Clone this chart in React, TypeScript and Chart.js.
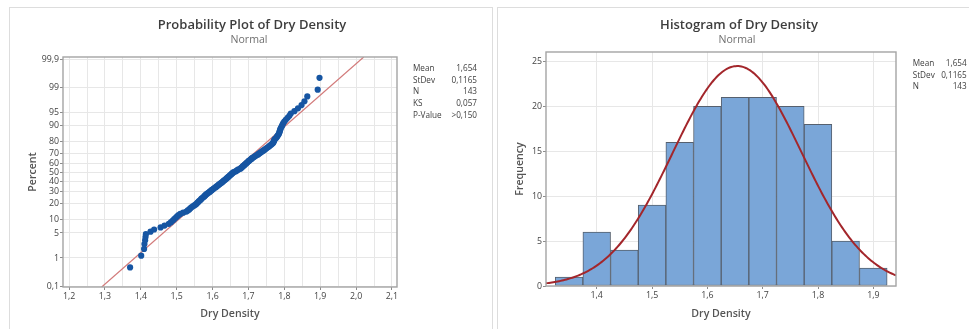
import React, { useEffect, useRef } from 'react';
import { Chart, registerables } from 'chart.js';

Chart.register(...registerables);

// ---------- data ----------
// Dry Density observations (sorted), estimated from the probability plot, consistent with the histogram bins
const dryDensity: number[] = [
  1.370,
  1.401, 1.409, 1.410, 1.412, 1.413, 1.414,
  1.427, 1.437, 1.455, 1.466,
  1.478, 1.484, 1.489, 1.493, 1.497, 1.501, 1.505, 1.510, 1.518,
  1.527, 1.531, 1.535, 1.538, 1.541, 1.545, 1.549, 1.553, 1.556, 1.558, 1.561, 1.563, 1.566, 1.568, 1.570, 1.573,
  1.576, 1.578, 1.580, 1.582, 1.585, 1.588, 1.591, 1.593, 1.596, 1.598, 1.601, 1.603, 1.606, 1.609, 1.611, 1.614, 1.616, 1.618, 1.621, 1.623,
  1.626, 1.628, 1.630, 1.632, 1.635, 1.637, 1.639, 1.641, 1.643, 1.645, 1.647, 1.649, 1.651, 1.653, 1.655, 1.657, 1.659, 1.664, 1.667, 1.669, 1.672,
  1.677, 1.679, 1.681, 1.683, 1.685, 1.687, 1.689, 1.691, 1.693, 1.695, 1.697, 1.699, 1.701, 1.703, 1.706, 1.708, 1.710, 1.713, 1.716, 1.719, 1.722,
  1.726, 1.728, 1.731, 1.734, 1.737, 1.740, 1.743, 1.746, 1.749, 1.752, 1.755, 1.758, 1.761, 1.764, 1.767, 1.769, 1.770, 1.771, 1.772, 1.774,
  1.777, 1.779, 1.781, 1.783, 1.785, 1.786, 1.787, 1.788, 1.789, 1.791, 1.793, 1.795, 1.797, 1.800, 1.804, 1.809, 1.814, 1.818,
  1.828, 1.838, 1.848, 1.856, 1.864,
  1.893, 1.898,
];

// Fitted normal parameters shown in the legend boxes
const fitMean = 1.654;
const fitStDev = 0.1165;
const sampleN = 143;

// Probability plot axes
const percentTicks: number[] = [0.1, 1, 5, 10, 20, 30, 40, 50, 60, 70, 80, 90, 95, 99, 99.9];
const percentTickLabels: string[] = ['0,1', '1', '5', '10', '20', '30', '40', '50', '60', '70', '80', '90', '95', '99', '99,9'];
const probXTicks: number[] = [1.2, 1.3, 1.4, 1.5, 1.6, 1.7, 1.8, 1.9, 2.0, 2.1];
const probXTickLabels: string[] = ['1,2', '1,3', '1,4', '1,5', '1,6', '1,7', '1,8', '1,9', '2,0', '2,1'];
const probXRange: number[] = [1.183, 2.114];
const probZRange: number[] = [-3.117, 3.153];

// Histogram
const binCenters: number[] = [1.35, 1.40, 1.45, 1.50, 1.55, 1.60, 1.65, 1.70, 1.75, 1.80, 1.85, 1.90];
const binCounts: number[] = [1, 6, 4, 9, 16, 20, 21, 21, 20, 18, 5, 2];
const binWidth = 0.05;
const histXTicks: number[] = [1.4, 1.5, 1.6, 1.7, 1.8, 1.9];
const histXTickLabels: string[] = ['1,4', '1,5', '1,6', '1,7', '1,8', '1,9'];
const histYTicks: number[] = [0, 5, 10, 15, 20, 25];
const histXRange: number[] = [1.3083, 1.941];
const histYRange: number[] = [0, 26.05];

// Legend tables
const probStatLabels: string[] = ['Mean', 'StDev', 'N', 'KS', 'P-Value'];
const probStatValues: string[] = ['1,654', '0,1165', '143', '0,057', '>0,150'];
const histStatLabels: string[] = ['Mean', 'StDev', 'N'];
const histStatValues: string[] = ['1,654', '0,1165', '143'];

// ---------- helpers ----------
function normInv(p: number): number {
  const a = [-3.969683028665376e1, 2.209460984245205e2, -2.759285104469687e2, 1.38357751867269e2, -3.066479806614716e1, 2.506628277459239];
  const b = [-5.447609879822406e1, 1.615858368580409e2, -1.556989798598866e2, 6.680131188771972e1, -1.328068155288572e1];
  const c = [-7.784894002430293e-3, -3.223964580411365e-1, -2.400758277161838, -2.549732539343734, 4.374664141464968, 2.938163982698783];
  const d = [7.784695709041462e-3, 3.224671290700398e-1, 2.445134137142996, 3.754408661907416];
  const pl = 0.02425;
  if (p < pl) {
    const q = Math.sqrt(-2 * Math.log(p));
    return (((((c[0] * q + c[1]) * q + c[2]) * q + c[3]) * q + c[4]) * q + c[5]) / ((((d[0] * q + d[1]) * q + d[2]) * q + d[3]) * q + 1);
  }
  if (p <= 1 - pl) {
    const q = p - 0.5;
    const r = q * q;
    return ((((((a[0] * r + a[1]) * r + a[2]) * r + a[3]) * r + a[4]) * r + a[5]) * q) / (((((b[0] * r + b[1]) * r + b[2]) * r + b[3]) * r + b[4]) * r + 1);
  }
  const q = Math.sqrt(-2 * Math.log(1 - p));
  return -(((((c[0] * q + c[1]) * q + c[2]) * q + c[3]) * q + c[4]) * q + c[5]) / ((((d[0] * q + d[1]) * q + d[2]) * q + d[3]) * q + 1);
}

const FONT = "'Open Sans', 'Noto Sans', sans-serif";
const TICK_COLOR = '#444444';
const GRID_COLOR = '#e7e7e7';
const TICKMARK_COLOR = '#8c8c8c';

const findIdx = (arr: number[], v: number) => arr.findIndex((t) => Math.abs(t - v) < 1e-6);

const decorPlugin = {
  id: 'decor',
  afterDraw(chart: any, _args: any, opts: any) {
    const { ctx, chartArea: a } = chart;
    ctx.save();
    // frame
    ctx.strokeStyle = '#a4a4a4';
    ctx.lineWidth = 1.4;
    ctx.strokeRect(a.left, a.top, a.right - a.left, a.bottom - a.top);
    // titles
    ctx.textAlign = 'center';
    ctx.textBaseline = 'alphabetic';
    ctx.fillStyle = '#3d3d3d';
    ctx.font = `600 13px ${FONT}`;
    ctx.fillText(opts.title, opts.titleX, opts.titleY);
    ctx.fillStyle = '#6f6f6f';
    ctx.font = `400 10.6px ${FONT}`;
    ctx.fillText(opts.subtitle, opts.subX, opts.subY);
    // stats table
    ctx.font = `400 8.2px ${FONT}`;
    ctx.fillStyle = '#404040';
    opts.labels.forEach((lab: string, i: number) => {
      const y = opts.rowY0 + i * opts.rowDy;
      ctx.textAlign = 'left';
      ctx.fillText(lab, opts.labelX, y);
      ctx.textAlign = 'right';
      ctx.fillText(opts.values[i], opts.valueX, y);
    });
    ctx.restore();
  },
};

function probConfig(): any {
  const sorted = [...dryDensity].sort((x, y) => x - y);
  const n = sorted.length;
  const points = sorted.map((v, i) => ({ x: v, y: normInv((i + 1 - 0.3) / (n + 0.4)) }));
  const fitLine = probZRange.map((z) => ({ x: fitMean + fitStDev * z, y: z }));
  const xGrid: number[] = [];
  probXTicks.forEach((t, i) => {
    xGrid.push(t);
    if (i < probXTicks.length - 1) xGrid.push(+(t + 0.05).toFixed(2));
  });
  return {
    type: 'scatter',
    data: {
      datasets: [
        {
          data: fitLine,
          showLine: true,
          borderColor: '#d27a7a',
          borderWidth: 1.2,
          pointRadius: 0,
          order: 1,
        },
        {
          data: points,
          backgroundColor: '#1655a2',
          borderColor: '#1655a2',
          borderWidth: 0,
          pointRadius: 3.1,
          order: 0,
        },
      ],
    },
    options: {
      animation: false,
      responsive: false,
      events: [],
      layout: { padding: { left: 0, right: 95, top: 57, bottom: 0 } },
      plugins: {
        legend: { display: false },
        tooltip: { enabled: false },
        decor: {
          title: 'Probability Plot of Dry Density',
          titleX: 252,
          titleY: 29.3,
          subtitle: 'Normal',
          subX: 249,
          subY: 43.3,
          labels: probStatLabels,
          values: probStatValues,
          labelX: 413,
          valueX: 477,
          rowY0: 71,
          rowDy: 11.7,
        },
      },
      scales: {
        x: {
          type: 'linear',
          min: probXRange[0],
          max: probXRange[1],
          afterBuildTicks: (s: any) => {
            s.ticks = xGrid.map((v) => ({ value: v }));
          },
          afterFit: (s: any) => {
            s.height = 42;
          },
          ticks: {
            autoSkip: false,
            maxRotation: 0,
            padding: 1,
            color: TICK_COLOR,
            font: { family: FONT, size: 8.8 },
            callback: (v: number) => {
              const i = findIdx(probXTicks, v);
              return i >= 0 ? probXTickLabels[i] : '';
            },
          },
          grid: {
            color: GRID_COLOR,
            lineWidth: 1,
            tickLength: 3,
            tickColor: (ctx: any) => (ctx.tick && findIdx(probXTicks, ctx.tick.value) >= 0 ? TICKMARK_COLOR : 'rgba(0,0,0,0)'),
          },
          border: { display: false },
          title: {
            display: true,
            text: 'Dry Density',
            color: '#555555',
            font: { family: FONT, size: 10.6, weight: '600' },
            padding: { top: 0, bottom: 9 },
          },
        },
        y: {
          type: 'linear',
          min: probZRange[0],
          max: probZRange[1],
          afterBuildTicks: (s: any) => {
            s.ticks = percentTicks.map((p) => ({ value: normInv(p / 100) }));
          },
          afterFit: (s: any) => {
            s.width = 63;
          },
          ticks: {
            autoSkip: false,
            padding: 1,
            color: TICK_COLOR,
            font: { family: FONT, size: 8.8 },
            callback: (_v: number, i: number) => percentTickLabels[i],
          },
          grid: { color: GRID_COLOR, lineWidth: 1, tickLength: 3, tickColor: TICKMARK_COLOR },
          border: { display: false },
          title: {
            display: true,
            text: 'Percent',
            color: '#555555',
            font: { family: FONT, size: 10.6, weight: '600' },
            padding: { top: 27, bottom: 0 },
          },
        },
      },
    },
    plugins: [decorPlugin],
  };
}

function histConfig(): any {
  // fitted normal density scaled to counts
  const steps = 240;
  const curve: { x: number; y: number }[] = [];
  for (let k = 0; k <= steps; k++) {
    const x = histXRange[0] + ((histXRange[1] - histXRange[0]) * k) / steps;
    const zz = (x - fitMean) / fitStDev;
    curve.push({ x, y: (sampleN * binWidth * Math.exp(-0.5 * zz * zz)) / (fitStDev * Math.sqrt(2 * Math.PI)) });
  }
  const bars = binCenters.map((c, i) => ({ x: c, y: binCounts[i] }));
  return {
    type: 'bar',
    data: {
      datasets: [
        {
          type: 'line',
          data: curve,
          borderColor: '#a3262b',
          borderWidth: 2,
          pointRadius: 0,
          order: 0,
        },
        {
          type: 'bar',
          data: bars,
          backgroundColor: '#7aa6d8',
          borderColor: '#56606e',
          borderWidth: 1,
          borderSkipped: false,
          barPercentage: 1,
          categoryPercentage: 1,
          order: 1,
        },
      ],
    },
    options: {
      animation: false,
      responsive: false,
      events: [],
      layout: { padding: { left: 0, right: 73, top: 52, bottom: 0 } },
      plugins: {
        legend: { display: false },
        tooltip: { enabled: false },
        decor: {
          title: 'Histogram of Dry Density',
          titleX: 245,
          titleY: 29,
          subtitle: 'Normal',
          subX: 243,
          subY: 42.7,
          labels: histStatLabels,
          values: histStatValues,
          labelX: 418.7,
          valueX: 472.7,
          rowY0: 66,
          rowDy: 11.7,
        },
      },
      scales: {
        x: {
          type: 'linear',
          offset: false,
          min: histXRange[0],
          max: histXRange[1],
          afterBuildTicks: (s: any) => {
            s.ticks = histXTicks.map((v) => ({ value: v }));
          },
          afterFit: (s: any) => {
            s.height = 43;
          },
          ticks: {
            autoSkip: false,
            maxRotation: 0,
            padding: 1,
            color: TICK_COLOR,
            font: { family: FONT, size: 8.8 },
            callback: (v: number) => {
              const i = findIdx(histXTicks, v);
              return i >= 0 ? histXTickLabels[i] : '';
            },
          },
          grid: { offset: false, color: GRID_COLOR, lineWidth: 1, tickLength: 3, tickColor: TICKMARK_COLOR },
          border: { display: false },
          title: {
            display: true,
            text: 'Dry Density',
            color: '#555555',
            font: { family: FONT, size: 10.6, weight: '600' },
            padding: { top: 0, bottom: 8.4 },
          },
        },
        y: {
          type: 'linear',
          min: histYRange[0],
          max: histYRange[1],
          afterBuildTicks: (s: any) => {
            s.ticks = histYTicks.map((v) => ({ value: v }));
          },
          afterFit: (s: any) => {
            s.width = 52;
          },
          ticks: {
            autoSkip: false,
            padding: 1,
            color: TICK_COLOR,
            font: { family: FONT, size: 8.8 },
            callback: (v: number) => String(v),
          },
          grid: { color: GRID_COLOR, lineWidth: 1, tickLength: 3, tickColor: TICKMARK_COLOR },
          border: { display: false },
          title: {
            display: true,
            text: 'Frequency',
            color: '#555555',
            font: { family: FONT, size: 10.6, weight: '600' },
            padding: { top: 19.4, bottom: 0 },
          },
        },
      },
    },
    plugins: [decorPlugin],
  };
}

export default function App() {
  const probRef = useRef<HTMLCanvasElement>(null);
  const histRef = useRef<HTMLCanvasElement>(null);

  useEffect(() => {
    const c1 = new Chart(probRef.current as HTMLCanvasElement, probConfig());
    const c2 = new Chart(histRef.current as HTMLCanvasElement, histConfig());
    return () => {
      c1.destroy();
      c2.destroy();
    };
  }, []);

  return (
    <div style={{ position: 'fixed', left: 0, top: 0, width: 969, height: 329, overflow: 'hidden', background: '#ffffff' }}>
      <div style={{ position: 'absolute', left: 9, top: 7, width: 484, height: 340, border: '1px solid #dddddd', boxSizing: 'border-box' }} />
      <div style={{ position: 'absolute', left: 497, top: 7, width: 490, height: 340, border: '1px solid #dddddd', boxSizing: 'border-box' }} />
      <canvas ref={probRef} width={492} height={329} style={{ position: 'absolute', left: 0, top: 0, width: 492, height: 329 }} />
      <canvas ref={histRef} width={475} height={329} style={{ position: 'absolute', left: 494, top: 0, width: 475, height: 329 }} />
    </div>
  );
}
